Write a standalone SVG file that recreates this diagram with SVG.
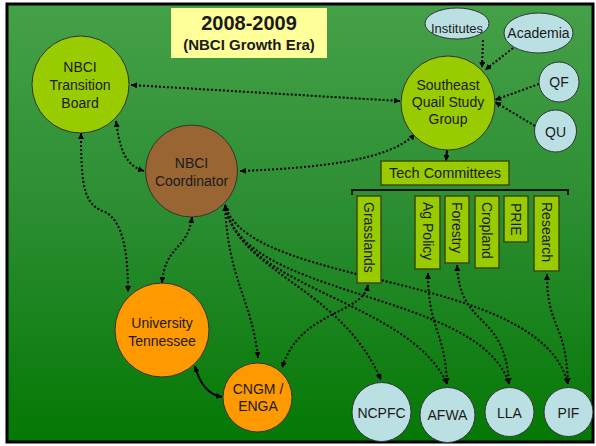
<svg xmlns="http://www.w3.org/2000/svg" width="596" height="446" viewBox="0 0 596 446">
<defs>
<linearGradient id="bg" x1="0" y1="0" x2="0" y2="1">
<stop offset="0" stop-color="#45a148"/>
<stop offset="0.5" stop-color="#2a8c30"/>
<stop offset="1" stop-color="#047804"/>
</linearGradient>
<marker id="ah" viewBox="0 0 10 10" refX="10" refY="5" markerWidth="6" markerHeight="6" markerUnits="userSpaceOnUse" orient="auto-start-reverse">
<path d="M0,0 L10,5 L0,10 z" fill="#000"/>
</marker>
<style>
text{font-family:"Liberation Sans",Arial,sans-serif;font-size:14px;fill:#1a1a1a;text-anchor:middle}
.node{stroke:#333;stroke-width:1}
.lg{fill:#99cc00}
.br{fill:#996633}
.or{fill:#ff9900}
.lb{fill:#bbe0e3}
.box{fill:#99cc00;stroke:#3d4a0c;stroke-width:1.5}
.vt{text-anchor:start}
.dot{fill:none;stroke:#000;stroke-width:2;stroke-dasharray:2 2;marker-start:url(#ah);marker-end:url(#ah)}
.one{fill:none;stroke:#000;stroke-width:2;stroke-dasharray:2 2;marker-end:url(#ah)}
.sol{fill:none;stroke:#000;stroke-width:2}
</style>
</defs>
<rect x="7" y="4" width="586" height="438" fill="url(#bg)" stroke="#000" stroke-width="3"/>
<g id="title">
<rect x="171" y="8" width="156" height="50" fill="#ffff99"/>
<text x="249" y="30" style="font-size:20px;font-weight:bold">2008-2009</text>
<text x="249" y="50" style="font-size:15px;font-weight:bold">(NBCI Growth Era)</text>
</g>
<g id="connectors">
<path class="dot" d="M131,85 L400,101"/>
<path class="dot" d="M116,121 C120,150 125,165 144,171"/>
<path class="dot" d="M81,133 C81,190 85,205 105,212 C125,222 128,260 128,292"/>
<path class="dot" d="M240,171 C320,168 390,160 415,134"/>
<path class="dot" d="M192,217 C188,250 165,245 162,283"/>
<path class="one" d="M483,40 L482,68"/>
<path class="one" d="M513,48 L485,70"/>
<path class="one" d="M539,84 L495,100"/>
<path class="one" d="M535,126 L495,102"/>
<path class="sol" d="M447,150 L446,161" marker-end="url(#ah)"/>
<path class="sol" d="M195,366 C200,385 210,395 222,397" marker-start="url(#ah)" marker-end="url(#ah)"/>
<path class="dot" d="M225,205 C228,280 252,300 258,358"/>
<path class="dot" d="M225,205 C240,275 340,285 381,380"/>
<path class="dot" d="M225,205 C240,290 410,300 447,384"/>
<path class="dot" d="M225,205 C240,300 480,290 509,384"/>
<path class="dot" d="M225,205 C250,290 540,270 568,384"/>
<path class="dot" d="M368,285 C362,315 300,310 282,368"/>
<path class="dot" d="M428,273 C428,330 445,330 447,384"/>
<path class="dot" d="M457,265 C460,330 505,310 509,384"/>
<path class="dot" d="M547,274 C547,330 566,320 568,384"/>
<path d="M352,195 L352,190 L568,190 L568,195" fill="none" stroke="#111" stroke-width="2"/>
</g>
<g id="transition-board">
<circle class="node lg" cx="80.5" cy="84.5" r="48.5"/>
<text x="80" y="72">NBCI</text>
<text x="80" y="90">Transition</text>
<text x="80" y="108">Board</text>
</g>
<g id="sqsg">
<circle class="node lg" cx="448" cy="103" r="47"/>
<text x="448" y="90">Southeast</text>
<text x="448" y="107">Quail Study</text>
<text x="448" y="124">Group</text>
</g>
<g id="institutes">
<ellipse class="node lb" cx="457" cy="23.5" rx="32" ry="15.5"/>
<text x="457" y="33" style="font-size:13px">Institutes</text>
</g>
<g id="academia">
<ellipse class="node lb" cx="538.5" cy="33" rx="34.5" ry="20"/>
<text x="538.5" y="38">Academia</text>
</g>
<g id="qf">
<circle class="node lb" cx="559" cy="82" r="20"/>
<text x="559" y="87">QF</text>
</g>
<g id="qu">
<circle class="node lb" cx="555.5" cy="131" r="21"/>
<text x="555.5" y="137">QU</text>
</g>
<g id="coordinator">
<circle class="node br" cx="191.5" cy="171" r="46"/>
<text x="191.5" y="168">NBCI</text>
<text x="191.5" y="186">Coordinator</text>
</g>
<g id="tech-committees">
<rect class="box" x="381" y="161" width="128" height="24"/>
<text x="445" y="178" style="font-size:14.5px">Tech Committees</text>
</g>
<g id="grasslands">
<rect class="box" x="357" y="196" width="24" height="87"/>
<text class="vt" transform="translate(364,202) rotate(90)">Grasslands</text>
</g>
<g id="ag-policy">
<rect class="box" x="415" y="196" width="25" height="73"/>
<text class="vt" transform="translate(422.5,202) rotate(90)">Ag Policy</text>
</g>
<g id="forestry">
<rect class="box" x="445" y="196" width="24" height="67"/>
<text class="vt" transform="translate(452,202) rotate(90)">Forestry</text>
</g>
<g id="cropland">
<rect class="box" x="475" y="196" width="24" height="72"/>
<text class="vt" transform="translate(482,202) rotate(90)">Cropland</text>
</g>
<g id="prie">
<rect class="box" x="504" y="196" width="24" height="46"/>
<text class="vt" transform="translate(511,203) rotate(90)">PRIE</text>
</g>
<g id="research">
<rect class="box" x="534" y="196" width="25" height="75"/>
<text class="vt" transform="translate(541.5,202) rotate(90)">Research</text>
</g>
<g id="university-tennessee">
<circle class="node or" cx="162" cy="330" r="47"/>
<text x="162" y="328">University</text>
<text x="162" y="346">Tennessee</text>
</g>
<g id="cngm-enga">
<circle class="node or" cx="257.5" cy="397.5" r="34.5"/>
<text x="258" y="394">CNGM /</text>
<text x="258" y="411">ENGA</text>
</g>
<g id="ncpfc">
<circle class="node lb" cx="381.5" cy="412" r="29.5"/>
<text x="381.5" y="418">NCPFC</text>
</g>
<g id="afwa">
<circle class="node lb" cx="447.5" cy="415" r="27.5"/>
<text x="447.5" y="420">AFWA</text>
</g>
<g id="lla">
<circle class="node lb" cx="509.5" cy="412" r="24.5"/>
<text x="509.5" y="418">LLA</text>
</g>
<g id="pif">
<circle class="node lb" cx="568.5" cy="412" r="24.5"/>
<text x="568.5" y="418">PIF</text>
</g>
</svg>
